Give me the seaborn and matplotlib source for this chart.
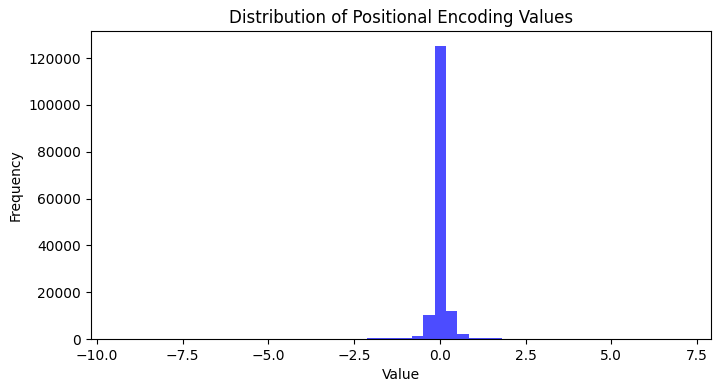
import numpy as np
import pandas as pd
import matplotlib
matplotlib.use("Agg")
import matplotlib.pyplot as plt
import seaborn as sns

# histogram: 50 equal bins between the data min and max
value_min = -9.35
value_max = 7.08
counts = [
    2, 0, 0, 0, 1, 0, 0, 1, 0, 2,
    1, 3, 2, 4, 6, 8, 12, 20, 35, 60,
    110, 160, 220, 310, 420, 560, 1400, 10100, 125300, 11900,
    2000, 520, 400, 290, 150, 90, 50, 30, 18, 10,
    6, 4, 3, 2, 1, 1, 0, 1, 0, 1,
]

edges = np.linspace(value_min, value_max, len(counts) + 1)
df = pd.DataFrame({
    "value": (edges[:-1] + edges[1:]) / 2,
    "count": counts,
})

fig = plt.figure(figsize=(7.18, 3.87), dpi=100)
ax = fig.add_axes([0.1267, 0.124, 0.8633, 0.796])
sns.histplot(data=df, x="value", weights="count", bins=list(edges),
             color="blue", alpha=0.7, linewidth=0, ax=ax)
ax.set_title("Distribution of Positional Encoding Values")
ax.set_xlabel("Value")
ax.set_ylabel("Frequency")
fig.savefig("out.png", dpi=100)
